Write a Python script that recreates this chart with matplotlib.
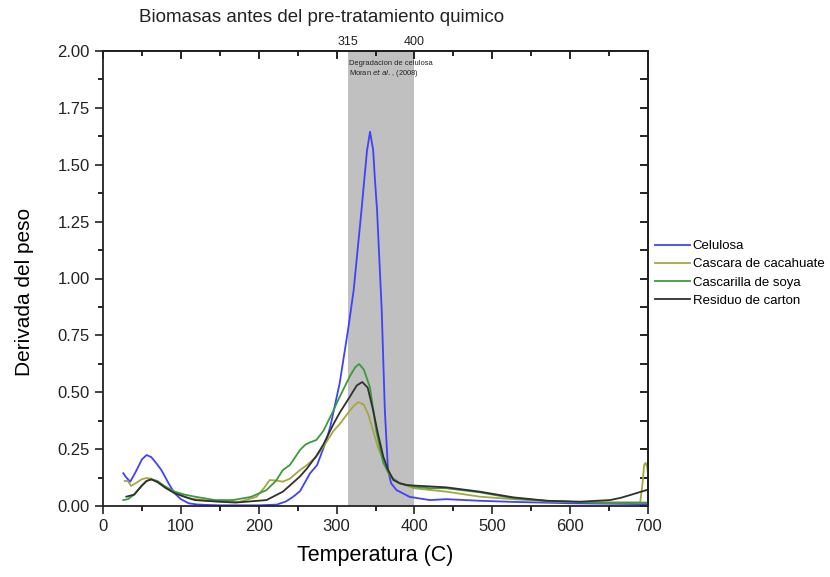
import matplotlib
matplotlib.use("Agg")
import matplotlib.pyplot as plt

plt.rcParams['font.family'] = ['Liberation Sans', 'DejaVu Sans']

# ---- data ----
cel_x = [26, 30, 35, 42, 50, 56, 62, 68, 75, 85, 92, 100, 110, 120, 130, 150, 200, 223, 235, 244, 253, 266, 275,
         287, 292, 304, 315, 322, 332, 339, 343, 347, 349, 352, 358, 362, 366, 370, 377, 394, 420, 441, 484, 527,
         600, 650, 700]
cel_y = [0.144, 0.125, 0.107, 0.15, 0.205, 0.224, 0.215, 0.19, 0.158, 0.095, 0.056, 0.03, 0.012, 0.007, 0.005,
         0.003, 0.003, 0.006, 0.02, 0.04, 0.065, 0.144, 0.18, 0.29, 0.35, 0.54, 0.78, 0.95, 1.30, 1.56, 1.645,
         1.565, 1.45, 1.30, 0.86, 0.42, 0.16, 0.10, 0.07, 0.04, 0.026, 0.03, 0.023, 0.018, 0.012, 0.01, 0.008]

cac_x = [28, 32, 36, 42, 50, 56, 62, 70, 80, 92, 110, 130, 150, 175, 197, 207, 214, 222, 231, 240, 253, 262,
         274, 283, 296, 304, 315, 322, 328, 335, 341, 347, 353, 360, 366, 373, 381, 390, 399, 441, 484, 527, 570,
         650, 690, 693, 695, 697, 699, 700]
cac_y = [0.11, 0.11, 0.088, 0.1, 0.118, 0.123, 0.12, 0.105, 0.085, 0.063, 0.034, 0.025, 0.02, 0.018, 0.04, 0.08,
         0.114, 0.112, 0.107, 0.12, 0.158, 0.18, 0.217, 0.26, 0.33, 0.36, 0.41, 0.44, 0.457, 0.445, 0.40, 0.33,
         0.26, 0.2, 0.15, 0.12, 0.10, 0.09, 0.078, 0.063, 0.041, 0.03, 0.02, 0.015, 0.015, 0.1, 0.18, 0.19, 0.17,
         0.14]

soy_x = [26, 32, 40, 50, 56, 62, 70, 80, 92, 105, 118, 144, 167, 190, 210, 222, 231, 240, 253, 260, 266, 274,
         283, 296, 304, 317, 324, 329, 335, 343, 351, 360, 369, 381, 399, 420, 441, 484, 527, 570, 612, 650, 700]
soy_y = [0.026, 0.03, 0.05, 0.09, 0.11, 0.117, 0.11, 0.085, 0.063, 0.05, 0.041, 0.026, 0.026, 0.04, 0.07, 0.11,
         0.158, 0.18, 0.246, 0.27, 0.28, 0.29, 0.33, 0.42, 0.48, 0.57, 0.61, 0.624, 0.6, 0.52, 0.33, 0.19, 0.13,
         0.10, 0.085, 0.078, 0.078, 0.06, 0.034, 0.023, 0.017, 0.015, 0.015]

car_x = [30, 40, 50, 56, 62, 70, 80, 92, 105, 118, 144, 170, 210, 231, 240, 253, 262, 274, 283, 296, 304, 317,
         326, 333, 340, 347, 353, 360, 366, 373, 381, 390, 399, 441, 484, 527, 570, 613, 651, 665, 677, 698]
car_y = [0.041, 0.05, 0.09, 0.11, 0.117, 0.105, 0.08, 0.056, 0.04, 0.026, 0.02, 0.015, 0.026, 0.063, 0.09, 0.13,
         0.165, 0.22, 0.27, 0.36, 0.41, 0.48, 0.53, 0.545, 0.52, 0.42, 0.32, 0.217, 0.16, 0.114, 0.10, 0.092,
         0.09, 0.082, 0.063, 0.038, 0.023, 0.019, 0.026, 0.036, 0.048, 0.07]

series_names = ["Celulosa", "Cascara de cacahuate", "Cascarilla de soya", "Residuo de carton"]
x_ticks = [0, 100, 200, 300, 400, 500, 600, 700]
y_ticks = [0.00, 0.25, 0.50, 0.75, 1.00, 1.25, 1.50, 1.75, 2.00]
x_minor = [50, 150, 250, 350, 450, 550, 650]
y_minor = [0.125, 0.375, 0.625, 0.875, 1.125, 1.375, 1.625, 1.875]
span_lo, span_hi = 315, 400

fig = plt.figure(figsize=(8.3, 5.77), dpi=100)
ax = fig.add_axes([103/830, 71/577, 545/830, 455/577])

ax.axvspan(span_lo, span_hi, color='#c0c0c0', lw=0, zorder=0)

lw = 1.3
ax.plot(cel_x, cel_y, color='#4040ff', lw=lw, label=series_names[0])
ax.plot(cac_x, cac_y, color='#a6a640', lw=lw, label=series_names[1])
ax.plot(soy_x, soy_y, color='#3c9a3c', lw=lw, label=series_names[2])
ax.plot(car_x, car_y, color='#303030', lw=lw, label=series_names[3])

ax.set_xlim(0, 700)
ax.set_ylim(0, 2.0)
ax.set_xticks(x_ticks)
ax.set_xticks(x_minor, minor=True)
ax.set_yticks(y_ticks)
ax.set_yticks(y_minor, minor=True)
ax.set_yticklabels([f"{v:.2f}" for v in y_ticks])
ax.tick_params(which='major', direction='out', length=6, width=1.2, labelsize=12, colors='#222222')
ax.tick_params(which='minor', direction='out', length=3.5, width=1.2)
for s in ax.spines.values():
    s.set_linewidth(1.3)
    s.set_color('#222222')

# mirrored ticks on top and right, inward
top = ax.secondary_xaxis('top')
top.set_xticks(x_ticks)
top.set_xticks(x_minor, minor=True)
top.tick_params(which='major', direction='in', length=6, width=1.2)
top.tick_params(which='minor', direction='in', length=3.5, width=1.2)
top.set_xticklabels([])
top.spines['top'].set_linewidth(1.3)

top2 = ax.secondary_xaxis('top')
top2.set_xticks([span_lo, span_hi])
top2.set_xticklabels([str(span_lo), str(span_hi)])
top2.tick_params(length=0, pad=2, labelsize=9, colors='#222222')
top2.spines['top'].set_visible(False)

right = ax.secondary_yaxis('right')
right.set_yticks(y_ticks)
right.set_yticks(y_minor, minor=True)
right.tick_params(which='major', direction='in', length=6, width=1.2)
right.tick_params(which='minor', direction='in', length=6, width=1.2)
right.set_yticklabels([])
right.spines['right'].set_linewidth(1.3)

ax.text(span_lo + 1, 1.947, "Degradacion de celulosa", fontsize=5.4, va='center', ha='left', color='#222222')
ax.text(span_lo + 1, 1.903, r"Moran $\mathit{et\,al.}$, (2008)", fontsize=5.4, va='center', ha='left',
        color='#222222')

ax.set_xlabel("Temperatura (C)", fontsize=15.5, labelpad=8)
ax.set_ylabel("Derivada del peso", fontsize=15)
ax.yaxis.set_label_coords((34 - 103) / 545, (506 - 292) / 455)

fig.text(322/830, 1 - 17/577, "Biomasas antes del pre-tratamiento quimico", fontsize=13.5,
         ha='center', va='center', color='#222222')

ax.legend(loc='upper left', bbox_to_anchor=(655/830, 1 - 240/577), bbox_transform=fig.transFigure,
          frameon=False, fontsize=9.5, handlelength=2.65, handletextpad=0.2, labelspacing=0.45,
          borderaxespad=0, borderpad=0)

fig.savefig("out.png", dpi=100)
